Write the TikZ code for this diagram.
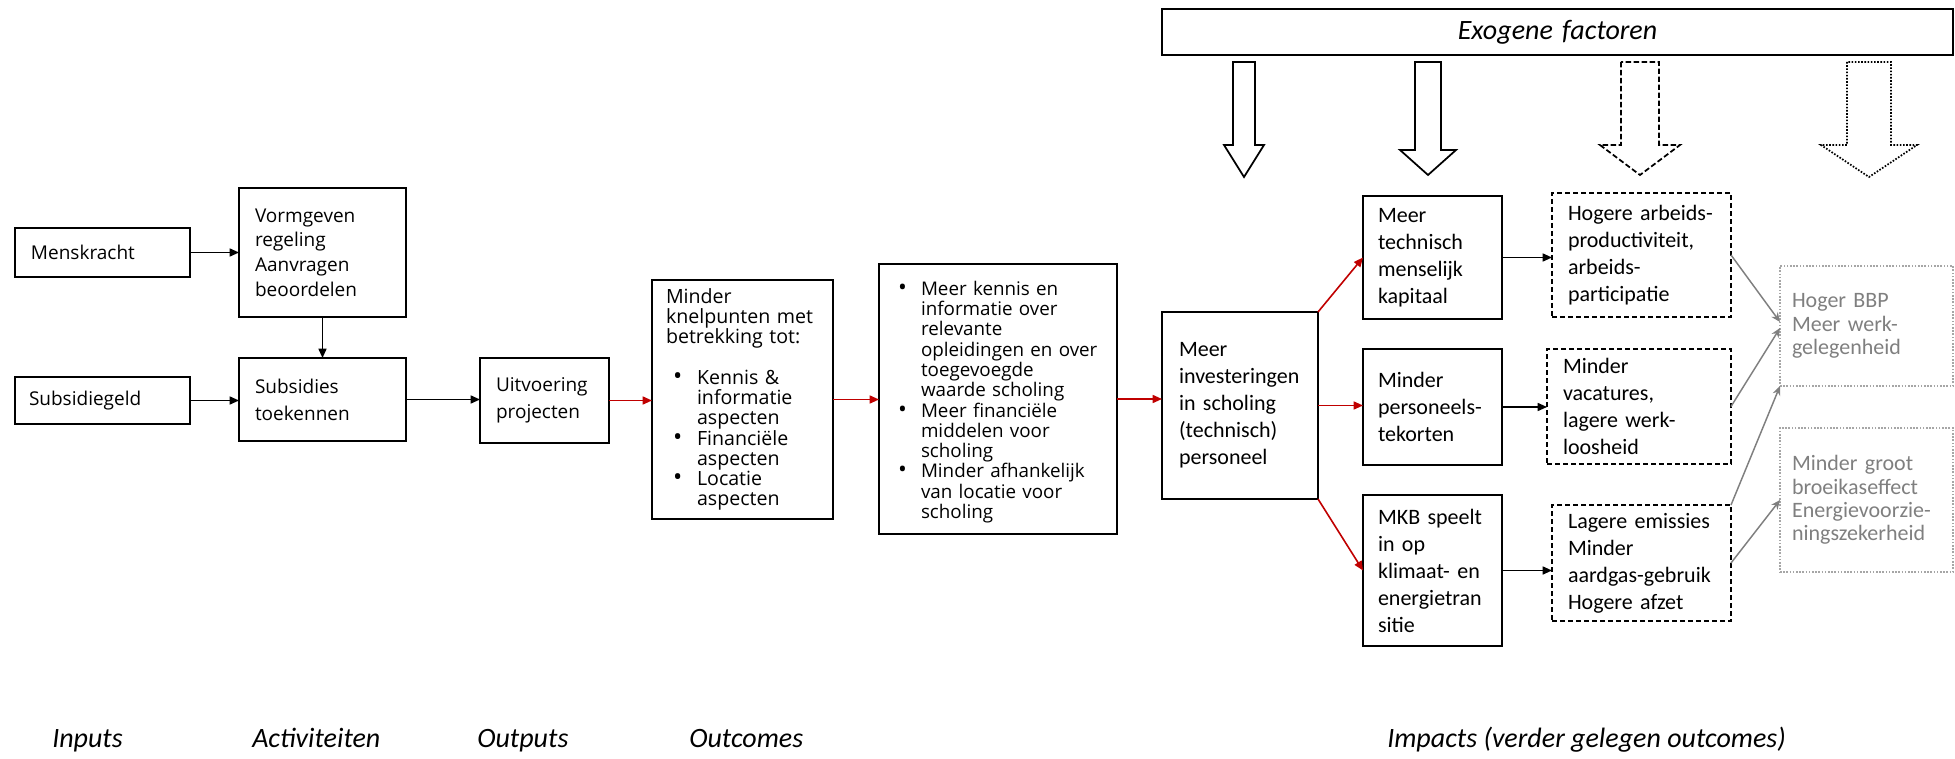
\documentclass[tikz,border=0pt]{standalone}
\usepackage{fontspec}
\setmainfont{Carlito}
\newfontfamily\segoe{Open Sans}
\usetikzlibrary{arrows.meta,calc}
\definecolor{redA}{HTML}{C00000}
\definecolor{grayA}{HTML}{7F7F7F}
\definecolor{grayB}{HTML}{A6A6A6}
\newcommand\mkbox[8]{%
 \pgfmathsetmacro\mkW{(#5-#3)*0.75}%
 \pgfmathsetmacro\mkH{(#6-#4)*0.75}%
 \pgfmathsetmacro\mkP{#7*0.75}%
 \pgfmathsetmacro\mkT{(#5-#3-2*#7)*0.75}%
 \node[#2, anchor=north west, outer sep=0pt, minimum width=\mkW pt, minimum height=\mkH pt, inner xsep=\mkP pt, inner ysep=0pt, text width=\mkT pt] (#1) at (#3,#4) {#8};}
\newcommand\bitem[3]{\par\hangindent=#2\hangafter=1\noindent\hspace*{#1}\makebox[\dimexpr#2-#1\relax][l]{\scalebox{1.25}{\textbullet}}#3\par}
\newcommand\blockarrow[6]{%
 \draw[#1] ({#2-#3},62) -- ({#2-#3},#5) -- ({#2-#4},#5) -- (#2,#6) -- ({#2+#4},#5) -- ({#2+#3},#5) -- ({#2+#3},62) -- cycle;}
\tikzset{
 solidbox/.style={draw, line width=1.4pt, align=left},
 dashbox/.style={draw, line width=1.4pt, dash pattern=on 4pt off 2pt, align=left},
 graybox/.style={draw=grayB, line width=1.2pt, dash pattern=on 1.2pt off 1.2pt, text=grayA, align=left},
 fcal/.style={font=\fontsize{16.5}{20.25}\selectfont},
 fcalg/.style={font=\fontsize{16.5}{17.6}\selectfont},
 fseg/.style={font=\segoe\fontsize{14.25}{18.5}\selectfont},
 fsegw/.style={font=\segoe\fontsize{14.25}{20.25}\selectfont},
 fsegt/.style={font=\segoe\fontsize{14.7}{15.2}\selectfont},
 fsegm/.style={font=\segoe\fontsize{14.1}{15.2}\selectfont},
 arr/.style={-{Triangle[length=7pt,width=6pt]}, line width=1.2pt},
 rarr/.style={arr, draw=redA},
 garr/.style={-{Stealth[length=7pt,width=6pt]}, line width=1.1pt, draw=grayA},
 lbl/.style={anchor=base west, font=\itshape\fontsize{21}{25}\selectfont, inner sep=0pt},
}
\begin{document}
\hyphenpenalty=10000 \exhyphenpenalty=10000
\begin{tikzpicture}[x=0.75pt,y=-0.75pt]
\useasboundingbox (0,0) rectangle (1955,759);
% left part
\mkbox{menskracht}{solidbox,fseg}{15}{228}{190}{277}{16}{Menskracht}
\mkbox{vormgeven}{solidbox,fseg}{239}{188}{406}{317}{16}{Vormgeven\\regeling\\Aanvragen\\beoordelen}
\mkbox{subsidiegeld}{solidbox,fseg}{15}{377}{190}{424}{14}{Subsidiegeld}
\mkbox{subsidies}{solidbox,fsegw}{239}{358}{406}{441}{16}{Subsidies\\toekennen}
\mkbox{uitvoering}{solidbox,fsegw}{480}{358}{609}{443}{16}{Uitvoering\\projecten}
\mkbox{knelpunten}{solidbox,fsegt}{652}{280}{833}{519}{14}{Minder\newline knelpunten~met\newline betrekking~tot:\newline\mbox{}%
\bitem{5.25pt}{23.25pt}{Kennis~\&\newline informatie\newline aspecten}%
\bitem{5.25pt}{23.25pt}{Financiële\newline aspecten}%
\bitem{5.25pt}{23.25pt}{Locatie\newline aspecten}}
\mkbox{middle}{solidbox,fsegm}{879}{264}{1117}{534}{6}{%
\bitem{9.75pt}{27pt}{Meer~kennis~en\newline informatie~over\newline relevante\newline opleidingen~en~over\newline toegevoegde\newline waarde~scholing}%
\bitem{9.75pt}{27pt}{Meer~financiële\newline middelen~voor\newline scholing}%
\bitem{9.75pt}{27pt}{Minder~afhankelijk\newline van~locatie~voor\newline scholing}}
% right part
\mkbox{investeringen}{solidbox,fcal}{1162}{312}{1318}{499}{17}{Meer\\investeringen\\in scholing\\(technisch)\\personeel}
\mkbox{technisch}{solidbox,fcal}{1363}{196}{1502}{319}{15}{Meer\\technisch\\menselijk\\kapitaal}
\mkbox{personeels}{solidbox,fcal}{1363}{349}{1502}{465}{15}{Minder\\personeels-\\tekorten}
\mkbox{mkb}{solidbox,fcal}{1363}{495}{1502}{646}{15}{MKB speelt\\in op\\klimaat- en\\energietran\\sitie}
\mkbox{hogere}{dashbox,fcal}{1552}{193}{1731}{317}{16}{Hogere arbeids-\\productiviteit,\\arbeids-\\participatie}
\mkbox{vacatures}{dashbox,fcal}{1547}{349}{1731}{464}{16}{Minder\\vacatures,\\lagere werk-\\loosheid}
\mkbox{emissies}{dashbox,fcal}{1552}{505}{1731}{621}{16}{Lagere emissies\\Minder\\aardgas-gebruik\\Hogere afzet}
\mkbox{bbp}{graybox,fcalg}{1780}{266}{1953}{386}{12}{Hoger BBP\\Meer werk-\\gelegenheid}
\mkbox{groot}{graybox,fcalg}{1780}{428}{1953}{572}{12}{Minder groot\\broeikaseffect\\Energievoorzie-\\ningszekerheid}
\mkbox{exogene}{solidbox,align=center,font=\itshape\fontsize{21}{25}\selectfont}{1162}{9}{1953}{55}{0}{Exogene factoren}
% block arrows
\blockarrow{line width=1.3pt}{1244}{11}{20}{145}{177}
\blockarrow{line width=1.3pt}{1428}{13}{28}{150}{175}
\blockarrow{line width=1.3pt,dash pattern=on 4pt off 2pt}{1640}{19}{40}{145}{175}
\blockarrow{line width=1.3pt,dash pattern=on 1.2pt off 1.2pt}{1869}{22}{48}{145}{177}
% connectors
\draw[arr] (menskracht.east) -- (menskracht.east -| vormgeven.west);
\draw[arr] (vormgeven.south) -- (subsidies.north);
\draw[arr] (subsidiegeld.east) -- (subsidiegeld.east -| subsidies.west);
\draw[arr] (subsidies.east) -- (subsidies.east -| uitvoering.west);
\draw[rarr] (uitvoering.east) -- (uitvoering.east -| knelpunten.west);
\draw[rarr] (knelpunten.east) -- (knelpunten.east -| middle.west);
\draw[rarr] (middle.east) -- (middle.east -| investeringen.west);
\draw[rarr] (investeringen.north east) -- (technisch.west);
\draw[rarr] (investeringen.east) -- (investeringen.east -| personeels.west);
\draw[rarr] (investeringen.south east) -- (mkb.west);
\draw[arr] (technisch.east) -- (technisch.east -| hogere.west);
\draw[arr] (personeels.east) -- (personeels.east -| vacatures.west);
\draw[arr] (mkb.east) -- (mkb.east -| emissies.west);
\draw[garr] (hogere.east) -- ([yshift=3pt]bbp.west);
\draw[garr] (vacatures.east) -- ([yshift=-1.5pt]bbp.west);
\draw[garr] (emissies.north east) -- (bbp.south west);
\draw[garr] (emissies.east) -- (groot.west);
% bottom labels
\node[lbl] (l1) at (52,747) {Inputs};
\node[lbl] (l2) at (252,747) {Activiteiten};
\node[lbl] (l3) at (477,747) {Outputs};
\node[lbl] (l4) at (689,747) {Outcomes};
\node[lbl] (l5) at (1387,747) {Impacts (verder gelegen outcomes)};
\end{tikzpicture}
\end{document}
